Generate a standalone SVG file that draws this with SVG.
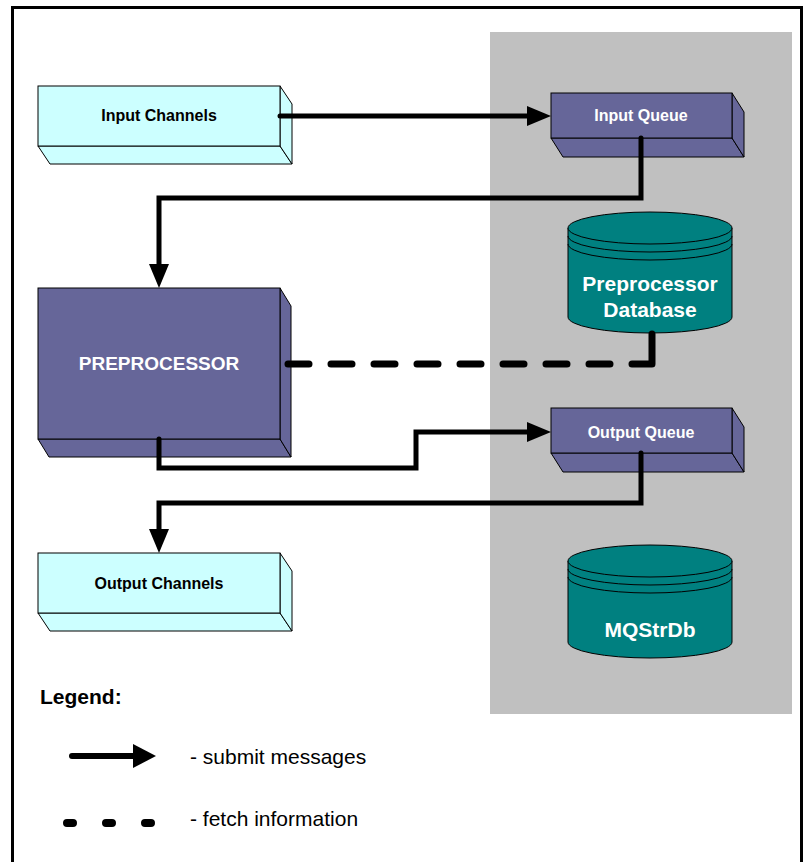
<svg xmlns="http://www.w3.org/2000/svg" width="804" height="862" viewBox="0 0 804 862">
  <style>
    .face { stroke: #000; stroke-width: 1; stroke-linejoin: miter; }
    .cyan { fill: #ccffff; }
    .purple { fill: #666699; }
    .db { fill: #008080; stroke: #000; stroke-width: 1; }
    .ring { fill: none; stroke: #000; stroke-width: 1; }
    .lbl { font-family: "Liberation Sans", Arial, sans-serif; font-weight: bold; text-anchor: middle; }
    .dark { fill: #000; font-size: 16px; }
    .light { fill: #fff; font-size: 16px; }
    .big { fill: #fff; font-size: 21px; }
    .flow { fill: none; stroke: #000; stroke-width: 5; stroke-linecap: round; stroke-linejoin: miter; }
    .fetch { fill: none; stroke: #000; stroke-width: 7; stroke-linecap: round; stroke-linejoin: round;
             stroke-dasharray: 21 22 21 22 21 22 21 22 21 22 21 22 21 22 21 22 50 50; }
    .legend { font-family: "Liberation Sans", Arial, sans-serif; font-size: 21px; fill: #000; }
  </style>
  <defs>
    <marker id="head" markerUnits="userSpaceOnUse" markerWidth="24" markerHeight="20" refX="14" refY="10" orient="auto">
      <path d="M0,0 L24,10 L0,20 Z" fill="#000"/>
    </marker>
  </defs>

  <rect x="0" y="0" width="804" height="862" fill="#fff"/>
  <!-- outer frame -->
  <rect x="12.5" y="7.5" width="789" height="900" fill="none" stroke="#000" stroke-width="3"/>
  <!-- messaging server area -->
  <rect x="490" y="32" width="302" height="682" fill="#c0c0c0"/>

  <g id="input-channels">
    <polygon class="face cyan" points="38,146 280,146 292,164 50,164"/>
    <polygon class="face cyan" points="280,86 292,104 292,164 280,146"/>
    <rect class="face cyan" x="38" y="86" width="242" height="60"/>
    <text class="lbl dark" x="159" y="121">Input Channels</text>
  </g>

  <g id="input-queue">
    <polygon class="face purple" points="551,138 732,138 744,157 563,157"/>
    <polygon class="face purple" points="732,93 744,112 744,157 732,138"/>
    <rect class="face purple" x="551" y="93" width="181" height="45"/>
    <text class="lbl light" x="641" y="121">Input Queue</text>
  </g>

  <g id="preprocessor-database">
    <path class="db" d="M568,228 L568,317 A82,16 0 0 0 732,317 L732,228 Z"/>
    <ellipse class="db" cx="650" cy="228" rx="82" ry="16"/>
    <path class="ring" d="M568,236 A82,16 0 0 0 732,236"/>
    <path class="ring" d="M568,244 A82,16 0 0 0 732,244"/>
    <text class="lbl big" x="650" y="291">Preprocessor</text>
    <text class="lbl big" x="650" y="317">Database</text>
  </g>

  <g id="preprocessor">
    <polygon class="face purple" points="38,439 280,439 291,457 49,457"/>
    <polygon class="face purple" points="280,288 291,306 291,457 280,439"/>
    <rect class="face purple" x="38" y="288" width="242" height="151"/>
    <text class="lbl" x="159" y="370" fill="#fff" font-size="19">PREPROCESSOR</text>
  </g>

  <g id="output-queue">
    <polygon class="face purple" points="551,453 732,453 744,472 563,472"/>
    <polygon class="face purple" points="732,408 744,427 744,472 732,453"/>
    <rect class="face purple" x="551" y="408" width="181" height="45"/>
    <text class="lbl light" x="641" y="438">Output Queue</text>
  </g>

  <g id="output-channels">
    <polygon class="face cyan" points="38,613 280,613 292,631 50,631"/>
    <polygon class="face cyan" points="280,553 292,571 292,631 280,613"/>
    <rect class="face cyan" x="38" y="553" width="242" height="60"/>
    <text class="lbl dark" x="159" y="589">Output Channels</text>
  </g>

  <g id="mqstrdb">
    <path class="db" d="M568,561 L568,642 A82,16 0 0 0 732,642 L732,561 Z"/>
    <ellipse class="db" cx="650" cy="561" rx="82" ry="16"/>
    <path class="ring" d="M568,569 A82,16 0 0 0 732,569"/>
    <path class="ring" d="M568,577 A82,16 0 0 0 732,577"/>
    <text class="lbl big" x="650" y="637">MQStrDb</text>
  </g>

  <g id="connectors">
    <path class="flow" d="M280,116 L541,116" marker-end="url(#head)"/>
    <path class="flow" d="M641,138 L641,198 L159,198 L159,278" marker-end="url(#head)"/>
    <path class="flow" d="M159,439 L159,468 L416,468 L416,432 L541,432" marker-end="url(#head)"/>
    <path class="flow" d="M641,453 L641,503 L159,503 L159,543" marker-end="url(#head)"/>
    <path class="fetch" d="M288,364 L652,364 L652,334"/>
  </g>

  <g id="legend">
    <text x="40" y="704" font-family="Liberation Sans, Arial, sans-serif" font-weight="bold" font-size="21">Legend:</text>
    <line x1="72" y1="756" x2="136" y2="756" stroke="#000" stroke-width="6" stroke-linecap="round"/>
    <path d="M133,744 L156,756 L133,768 Z" fill="#000"/>
    <text class="legend" x="190" y="764">- submit messages</text>
    <line x1="67" y1="823" x2="152" y2="823" stroke="#000" stroke-width="8" stroke-linecap="round" stroke-dasharray="6 33"/>
    <text class="legend" x="190" y="826">- fetch information</text>
  </g>
</svg>
